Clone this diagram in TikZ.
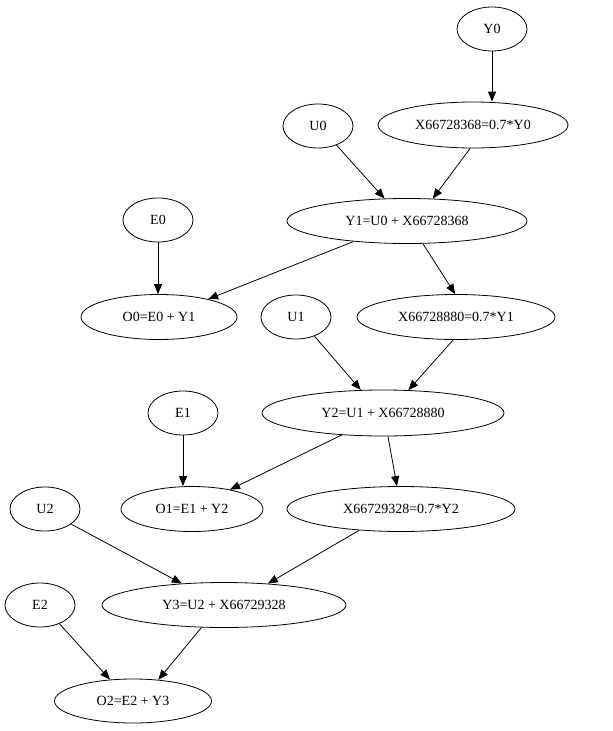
\documentclass[tikz,border=0pt]{standalone}
\usepackage{fontspec}
\setmainfont{Liberation Serif}
\usetikzlibrary{shapes.geometric,arrows.meta}
\begin{document}
\begin{tikzpicture}[x=1pt,y=-1pt,
  nd/.style={draw,ellipse,inner sep=0pt,line width=0.8pt,font=\fontsize{14}{16}\selectfont},
  edge/.style={draw,-{Triangle[length=10pt,width=8pt]},line width=0.8pt}]
\useasboundingbox (0,0) rectangle (613,731);
\node[nd,minimum width=70,minimum height=44] (Y0) at (492,29) {Y0};
\node[nd,minimum width=190,minimum height=46] (X1) at (473,125) {X66728368=0.7*Y0};
\node[nd,minimum width=70,minimum height=44] (U0) at (318,126) {U0};
\node[nd,minimum width=240,minimum height=45] (Y1) at (407,221) {Y1=U0 + X66728368};
\node[nd,minimum width=70,minimum height=44] (E0) at (158,220) {E0};
\node[nd,minimum width=156,minimum height=45] (O0) at (159,317) {O0=E0 + Y1};
\node[nd,minimum width=70,minimum height=44] (U1) at (296,317) {U1};
\node[nd,minimum width=198,minimum height=45] (X2) at (456,317) {X66728880=0.7*Y1};
\node[nd,minimum width=242,minimum height=46] (Y2) at (383,413) {Y2=U1 + X66728880};
\node[nd,minimum width=70,minimum height=44] (E1) at (183,413) {E1};
\node[nd,minimum width=142,minimum height=45] (O1) at (192,509) {O1=E1 + Y2};
\node[nd,minimum width=228,minimum height=45] (X3) at (401,509) {X66729328=0.7*Y2};
\node[nd,minimum width=70,minimum height=44] (U2) at (45,509) {U2};
\node[nd,minimum width=244,minimum height=45] (Y3) at (224,605) {Y3=U2 + X66729328};
\node[nd,minimum width=70,minimum height=44] (E2) at (40,605) {E2};
\node[nd,minimum width=157,minimum height=44] (O2) at (133,701) {O2=E2 + Y3};
\path[edge] (Y0.south) -- (Y0 |- X1.north);
\path[edge] (X1.263) -- (Y1.41);
\path[edge] (U0.314) -- (Y1.135);
\path[edge] (Y1.201) -- (O0.20);
\path[edge] (Y1.305) -- (X2.92);
\path[edge] (E0.south) -- (E0 |- O0.north);
\path[edge] (U1.314) -- (Y2.134);
\path[edge] (X2.263) -- (Y2.42);
\path[edge] (Y2.208) -- (O1.27);
\path[edge] (Y2.282) -- (X3.100);
\path[edge] (E1.south) -- (E1 |- O1.north);
\path[edge] (U2.330) -- (Y3.153);
\path[edge] (X3.207) -- (Y3.26);
\path[edge] (Y3.225) -- (O2.40);
\path[edge] (E2.316) -- (O2.137);
\end{tikzpicture}
\end{document}
